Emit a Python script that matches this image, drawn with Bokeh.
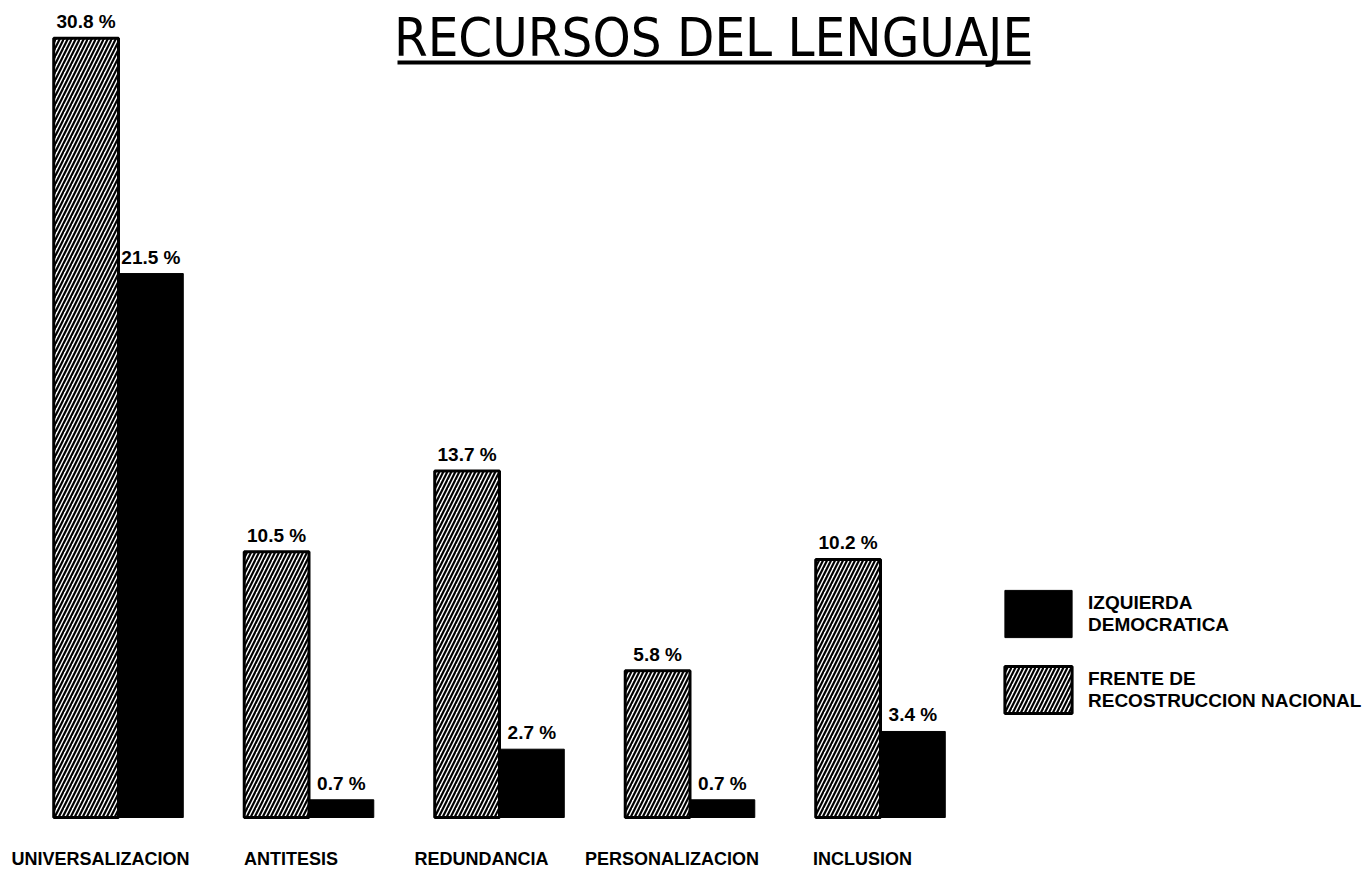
from bokeh.plotting import figure
from bokeh.models import ColumnDataSource, Range1d, Label, BoxAnnotation, Legend, LegendItem
from bokeh.transform import dodge
from bokeh.core.properties import value
from bokeh.embed import file_html
from bokeh.resources import INLINE

categories = ["UNIVERSALIZACION", "ANTITESIS", "REDUNDANCIA", "PERSONALIZACION", "INCLUSION"]
frente = [30.8, 10.5, 13.7, 5.8, 10.2]        # Frente de Reconstrucción Nacional (hatched)
izquierda = [21.5, 0.7, 2.7, 0.7, 3.4]         # Izquierda Democrática (black)
series_names = ["IZQUIERDA\nDEMOCRATICA", "FRENTE DE\nRECOSTRUCCION NACIONAL"]
title_text = "RECURSOS DEL LENGUAJE"

W, H = 1365, 872
px_per_group = 190.5
x0_page = 118
x_start = -x0_page / px_per_group
x_end = x_start + W / px_per_group
base_page = 817
px_per_unit = 25.3
y_end = base_page / px_per_unit
y_start = -(H - base_page) / px_per_unit

src = ColumnDataSource(dict(
    x=list(range(len(categories))),
    cat=categories,
    zero=[0] * len(categories),
    frn=frente,
    izq=izquierda,
    frn_lbl=[f"{v} %" for v in frente],
    izq_lbl=[f"{v} %" for v in izquierda],
))

BOLD = value("Liberation Sans")

p = figure(width=W, height=H, output_backend="svg", toolbar_location=None,
           x_range=Range1d(x_start, x_end), y_range=Range1d(y_start, y_end),
           x_axis_location=None, y_axis_location=None,
           min_border_left=0, min_border_right=0, min_border_top=0, min_border_bottom=0)
p.outline_line_color = None
p.grid.visible = False
p.background_fill_color = "white"

bw = 0.34
r_frn = p.vbar(x=dodge("x", -bw / 2, range=p.x_range), top="frn", width=bw, source=src,
               fill_color="white", line_color="black", line_width=3,
               hatch_pattern="/", hatch_color="black", hatch_scale=8, hatch_weight=2.2)
r_izq = p.vbar(x=dodge("x", bw / 2, range=p.x_range), top="izq", width=bw, source=src,
               fill_color="black", line_color="black", line_width=1)

p.text(x=dodge("x", -bw / 2, range=p.x_range), y="frn", text="frn_lbl", source=src,
       text_align="center", text_baseline="bottom", y_offset=-6,
       text_font=BOLD, text_font_style="bold", text_font_size="19px", text_color="black")
p.text(x=dodge("x", bw / 2, range=p.x_range), y="izq", text="izq_lbl", source=src,
       text_align="center", text_baseline="bottom", y_offset=-6,
       text_font=BOLD, text_font_style="bold", text_font_size="19px", text_color="black")

# category labels under the groups
p.text(x="x", y="zero", text="cat", source=src, text_align="center", text_baseline="top",
       x_offset=-18, y_offset=31,
       text_font=BOLD, text_font_style="bold", text_font_size="18px", text_color="black")

legend = Legend(items=[LegendItem(label=series_names[0], renderers=[r_izq]),
                       LegendItem(label=series_names[1], renderers=[r_frn])],
                location=(996, H - 719), glyph_width=84, glyph_height=59, spacing=17,
                label_standoff=8, padding=0, margin=0, border_line_color=None,
                background_fill_alpha=0, label_text_font="Liberation Sans",
                label_text_font_style="bold", label_text_font_size="19px",
                label_text_color="black", label_text_line_height=1.5)
p.add_layout(legend)

title = Label(x=713, y=H - 56 + 19, x_units="screen", y_units="screen", text=title_text,
              text_align="center", text_baseline="alphabetic",
              text_font="DejaVu Sans Condensed, Liberation Sans", text_font_size="54px",
              text_color="black")
p.add_layout(title)
underline = BoxAnnotation(left=397, right=1030, top=H - 60, bottom=H - 64,
                          left_units="screen", right_units="screen",
                          top_units="screen", bottom_units="screen",
                          fill_color="black", fill_alpha=1, line_color=None)
p.add_layout(underline)

open("out.html", "w").write(file_html(p, INLINE))
